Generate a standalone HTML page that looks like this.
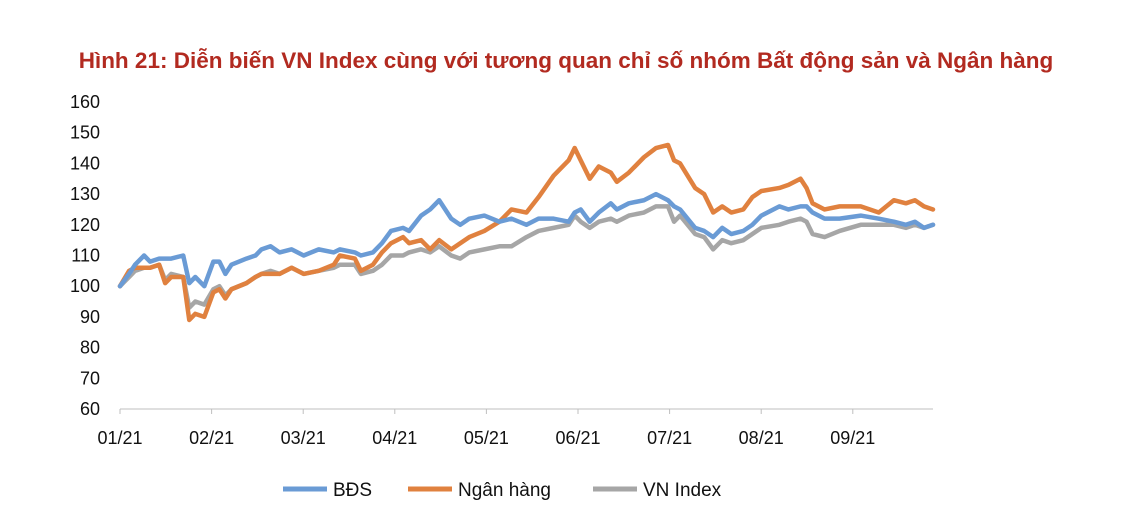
<!DOCTYPE html>
<html><head><meta charset="utf-8"><style>
body{margin:0;background:#fff;width:1132px;height:518px;overflow:hidden;font-family:"Liberation Sans",sans-serif}
</style></head><body>
<svg width="1132" height="518">
<text x="566" y="68" text-anchor="middle" font-size="22.5" font-weight="bold" fill="#b22a20">Hình 21: Diễn biến VN Index cùng với tương quan chỉ số nhóm Bất động sản và Ngân hàng</text>
<g id="axes"></g><g id="series"></g>
<g font-size="19" fill="#111">
<g><line x1="283" y1="489" x2="327" y2="489" stroke="#6a9bd5" stroke-width="5"/><text x="333" y="496">BĐS</text></g>
<g><line x1="408" y1="489" x2="452" y2="489" stroke="#e0813f" stroke-width="5"/><text x="458" y="496">Ngân hàng</text></g>
<g><line x1="593" y1="489" x2="637" y2="489" stroke="#a6a6a6" stroke-width="5"/><text x="643" y="496">VN Index</text></g>
</g>
</svg>
<script>
const days=[0,3,5,8,10,13,15,17,21,23,25,28,31,33,35,37,42,45,47,50,53,57,61,66,71,73,78,80,84,87,90,94,96,100,103,106,110,113,116,121,126,130,135,139,144,149,151,153,156,159,163,165,169,174,178,182,184,186,191,194,197,200,203,207,210,213,219,222,226,228,230,234,239,246,252,257,261,264,267,270];
const bds=[100,104,107,110,108,109,109,109,110,101,103,100,108,108,104,107,109,110,112,113,111,112,110,112,111,112,111,110,111,114,118,119,118,123,125,128,122,120,122,123,121,122,120,122,122,121,124,125,121,124,127,125,127,128,130,128,126,125,119,118,116,119,117,118,120,123,126,125,126,126,124,122,122,123,122,121,120,121,119,120];
const nganHang=[100,105,106,106,106,107,101,103,103,89,91,90,98,99,96,99,101,103,104,104,104,106,104,105,107,110,109,105,107,111,114,116,114,115,112,115,112,114,116,118,121,125,124,129,136,141,145,141,135,139,137,134,137,142,145,146,141,140,132,130,124,126,124,125,129,131,132,133,135,132,127,125,126,126,124,128,127,128,126,125];
const vnIndex=[100,103,105,106,106,107,102,104,103,93,95,94,99,100,97,99,101,103,104,105,104,106,104,105,106,107,107,104,105,107,110,110,111,112,111,113,110,109,111,112,113,113,116,118,119,120,123,121,119,121,122,121,123,124,126,126,121,123,117,116,112,115,114,115,117,119,120,121,122,121,117,116,118,120,120,120,119,120,119,120];
const yTicks=[60,70,80,90,100,110,120,130,140,150,160];
const xTickLabels=['01/21','02/21','03/21','04/21','05/21','06/21','07/21','08/21','09/21'];
const NS='http://www.w3.org/2000/svg';
const X=d=>120+d*(813/270);
const Y=v=>409-(v-60)*3.07;
const ax=document.getElementById('axes'),sg=document.getElementById('series');
function mk(t,a,p){const e=document.createElementNS(NS,t);for(const k in a)e.setAttribute(k,a[k]);p.appendChild(e);return e;}
yTicks.forEach(v=>{const t=mk('text',{x:100,y:Y(v)+6,'text-anchor':'end','font-size':18,fill:'#111'},ax);t.textContent=v;

});
const xa=mk('line',{x1:120,y1:409,x2:933,y2:409,stroke:'#bfbfbf','stroke-width':1},ax);


xTickLabels.forEach((l,i)=>{const x=120+i*91.6;mk('line',{x1:x,y1:409,x2:x,y2:414,stroke:'#bfbfbf'},ax);
const t=mk('text',{x:x,y:444,'text-anchor':'middle','font-size':18,fill:'#111'},ax);t.textContent=l;

});
[[vnIndex,'#a6a6a6','line-vn-index'],[nganHang,'#e0813f','line-ngan-hang'],[bds,'#6a9bd5','line-bds']].forEach(([s,c,n])=>{
const p=mk('polyline',{points:s.map((v,i)=>X(days[i])+','+Y(v)).join(' '),fill:'none',stroke:c,'stroke-width':4.5,'stroke-linejoin':'round','stroke-linecap':'round'},sg);

});
</script>
</body></html>
